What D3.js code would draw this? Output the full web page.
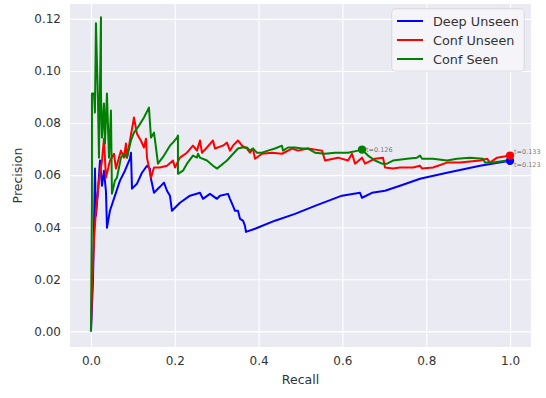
<!DOCTYPE html>
<html><head><meta charset="utf-8">
<script src="https://cdn.jsdelivr.net/npm/d3@7"></script>
<style>body{margin:0;background:#fff}svg{display:block}text{font-family:"DejaVu Sans",sans-serif}</style>
</head><body><svg id="c" width="546" height="398"></svg>
<script>
const xTicks = [0, 0.2, 0.4, 0.6, 0.8, 1.0];
const yTicks = [0, 0.02, 0.04, 0.06, 0.08, 0.10, 0.12];
const seriesNames = ["Deep Unseen", "Conf Unseen", "Conf Seen"];
const seriesColors = ["#0000ff", "#ff0000", "#008000"];

const deepUnseenRecall = [0,0.0048,0.0072,0.0095,0.0119,0.0167,0.0215,0.0263,0.031,0.0358,0.0382,0.0453,0.0573,0.0692,0.0811,0.0931,0.0955,0.0979,0.1098,0.1217,0.1337,0.1408,0.1432,0.1504,0.1647,0.1742,0.1814,0.1885,0.1933,0.2124,0.2363,0.2601,0.2673,0.284,0.3007,0.3079,0.327,0.3317,0.3389,0.3437,0.3508,0.3556,0.3628,0.3675,0.3699,0.3914,0.4391,0.4869,0.5346,0.599,0.642,0.6468,0.6706,0.7017,0.7375,0.7852,0.8496,0.9284,1.0];
const deepUnseenPrecision = [0,0.0194,0.0387,0.0625,0.0444,0.0537,0.0656,0.0559,0.0617,0.0537,0.0398,0.0463,0.0521,0.0579,0.0617,0.0663,0.0686,0.0548,0.0567,0.0609,0.0636,0.0625,0.0586,0.0532,0.0555,0.0571,0.054,0.0521,0.0463,0.0494,0.0521,0.0532,0.0509,0.0528,0.0509,0.0521,0.0528,0.0509,0.0482,0.0463,0.0463,0.0432,0.0425,0.0405,0.0382,0.0394,0.0425,0.0451,0.0482,0.0521,0.0532,0.0513,0.0532,0.054,0.0559,0.0586,0.0609,0.0636,0.0655];

const confUnseenRecall = [0,0.0024,0.0072,0.0119,0.0191,0.0263,0.031,0.0358,0.0453,0.0549,0.0597,0.0716,0.0788,0.0835,0.0859,0.1026,0.1098,0.1193,0.1265,0.1313,0.1337,0.1432,0.1504,0.1647,0.1814,0.1957,0.2005,0.2124,0.2291,0.2434,0.253,0.2601,0.2649,0.2768,0.2912,0.2959,0.315,0.3246,0.3317,0.3389,0.3508,0.3604,0.3723,0.3795,0.3866,0.3914,0.4081,0.432,0.4558,0.4797,0.494,0.5179,0.5513,0.5585,0.5895,0.6134,0.623,0.6301,0.6468,0.654,0.6778,0.6969,0.7017,0.7208,0.7375,0.7685,0.7852,0.79,0.8162,0.8496,0.8807,0.9284,0.9451,0.9523,0.969,1.0];
const confUnseenPrecision = [0,0.0155,0.0348,0.0463,0.0579,0.0655,0.074,0.059,0.0655,0.0682,0.0625,0.0694,0.0667,0.0721,0.0667,0.0821,0.0759,0.0732,0.0706,0.074,0.0667,0.059,0.0629,0.0629,0.0636,0.0656,0.0629,0.0667,0.0686,0.0713,0.0694,0.0733,0.0686,0.0706,0.0733,0.0702,0.0713,0.0725,0.0694,0.0713,0.0733,0.0713,0.0702,0.0686,0.0702,0.0663,0.0682,0.0686,0.0682,0.0702,0.0694,0.0702,0.0694,0.0656,0.0667,0.0656,0.0682,0.0644,0.0667,0.0644,0.0663,0.0667,0.0629,0.0625,0.0629,0.0629,0.0636,0.0625,0.0629,0.0648,0.0648,0.0656,0.0663,0.0648,0.0667,0.0675];

const confSeenRecall = [0,0.0024,0.0024,0.0072,0.0095,0.0119,0.0167,0.0191,0.0239,0.0239,0.0263,0.031,0.0334,0.0382,0.043,0.0477,0.0501,0.0573,0.062,0.0716,0.0788,0.0859,0.0955,0.1026,0.1146,0.1265,0.1384,0.1432,0.1504,0.1551,0.1599,0.1742,0.1885,0.1957,0.2053,0.2076,0.2076,0.2196,0.2291,0.2434,0.253,0.2554,0.2601,0.2768,0.2912,0.3007,0.3246,0.3508,0.3604,0.3723,0.3795,0.3866,0.3962,0.4081,0.4224,0.4391,0.4558,0.4582,0.4702,0.4869,0.5036,0.5179,0.5346,0.5585,0.5823,0.6134,0.6372,0.6468,0.6611,0.6778,0.6945,0.7064,0.7208,0.7542,0.778,0.7852,0.79,0.8162,0.8496,0.8735,0.9045,0.9356,0.9403,0.9594,0.9928,1.0];
const confSeenPrecision = [0,0.0501,0.0913,0.0913,0.084,0.1183,0.0886,0.0667,0.1206,0.0913,0.0744,0.0875,0.0721,0.0913,0.0667,0.0848,0.0528,0.0579,0.059,0.0667,0.0682,0.0667,0.0733,0.0763,0.079,0.0821,0.0859,0.0744,0.0763,0.0706,0.0644,0.0675,0.0713,0.0725,0.0744,0.0752,0.0605,0.0617,0.0644,0.0675,0.0667,0.0682,0.0667,0.0656,0.0636,0.0625,0.0656,0.0702,0.0706,0.0706,0.0694,0.0702,0.0686,0.0686,0.0694,0.0702,0.0713,0.0694,0.0706,0.0706,0.0702,0.0702,0.0686,0.0682,0.0686,0.0686,0.0694,0.0698,0.0675,0.0656,0.0644,0.0644,0.0656,0.0663,0.0667,0.0675,0.0663,0.0663,0.0656,0.0663,0.0667,0.0663,0.0648,0.0648,0.0656,0.0663];

const markerRecall = [1.0, 1.0, 0.6468];
const markerPrecision = [0.0655, 0.0675, 0.0698];
const markerLabels = ["t=0.123", "t=0.133", "t=0.126"];

const svg = d3.select("#c");
const pL = 70, pR = 531, pT = 4, pB = 347;
const x = d3.scaleLinear().domain([-0.05, 1.05]).range([pL, pR]);
const y = d3.scaleLinear().domain([-0.006, 0.1257]).range([pB, pT]);

svg.append("rect").attr("x", pL).attr("y", pT).attr("width", pR - pL).attr("height", pB - pT).attr("fill", "#eaeaf2");

const gx = svg.append("g").attr("transform", `translate(0,${pB})`)
  .call(d3.axisBottom(x).tickValues(xTicks).tickFormat(d3.format(".1f")).tickSize(-(pB - pT)).tickPadding(9));
const gy = svg.append("g").attr("transform", `translate(${pL},0)`)
  .call(d3.axisLeft(y).tickValues(yTicks).tickFormat(d3.format(".2f")).tickSize(-(pR - pL)).tickPadding(9));
[gx, gy].forEach(g => {
  g.select(".domain").remove();
  g.selectAll(".tick line").attr("stroke", "#fff").attr("stroke-width", 1.1);
  g.selectAll(".tick text").attr("fill", "#333").attr("font-size", 12).attr("font-family", "DejaVu Sans");
});

const series = [
  [deepUnseenRecall, deepUnseenPrecision],
  [confUnseenRecall, confUnseenPrecision],
  [confSeenRecall, confSeenPrecision]
];
const line = d3.line().x(d => x(d[0])).y(d => y(d[1]));
const plot = svg.append("g");
series.forEach((s, i) => {
  const pts = s[0].map((r, j) => [r, s[1][j]]);
  plot.append("path").datum(pts).attr("d", line).attr("fill", "none")
    .attr("stroke", seriesColors[i]).attr("stroke-width", 2).attr("stroke-linejoin", "round");
});
const labelDy = [6, -2, 2.5];
markerRecall.forEach((r, i) => {
  plot.append("circle").attr("cx", x(r)).attr("cy", y(markerPrecision[i])).attr("r", 4.2).attr("fill", seriesColors[i]);
  plot.append("text").attr("x", x(r) + 4).attr("y", y(markerPrecision[i]) + labelDy[i])
    .attr("font-size", 6.5).attr("fill", "#555").attr("fill-opacity", 0.8).text(markerLabels[i]);
});

svg.append("text").attr("x", (pL + pR) / 2).attr("y", 384).attr("text-anchor", "middle")
  .attr("font-size", 12.5).attr("fill", "#333").text("Recall");
svg.append("text").attr("transform", `translate(22,${(pT + pB) / 2}) rotate(-90)`).attr("text-anchor", "middle")
  .attr("font-size", 12.5).attr("fill", "#333").text("Precision");

const lg = svg.append("g");
lg.append("rect").attr("x", 392).attr("y", 9).attr("width", 132).attr("height", 62).attr("rx", 3)
  .attr("fill", "#eaeaf2").attr("fill-opacity", 0.8).attr("stroke", "#d0d0d0");
lg.append("rect").attr("x", 392).attr("y", 9).attr("width", 132).attr("height", 62).attr("rx", 3)
  .attr("fill", "#ffffff").attr("fill-opacity", 0.5).attr("stroke", "none");
seriesNames.forEach((n, i) => {
  const yy = 21 + i * 19;
  lg.append("line").attr("x1", 397).attr("x2", 423).attr("y1", yy).attr("y2", yy)
    .attr("stroke", seriesColors[i]).attr("stroke-width", 2);
  lg.append("text").attr("x", 433).attr("y", yy + 4.5).attr("font-size", 12.8).attr("fill", "#333").text(n);
});
</script></body></html>
